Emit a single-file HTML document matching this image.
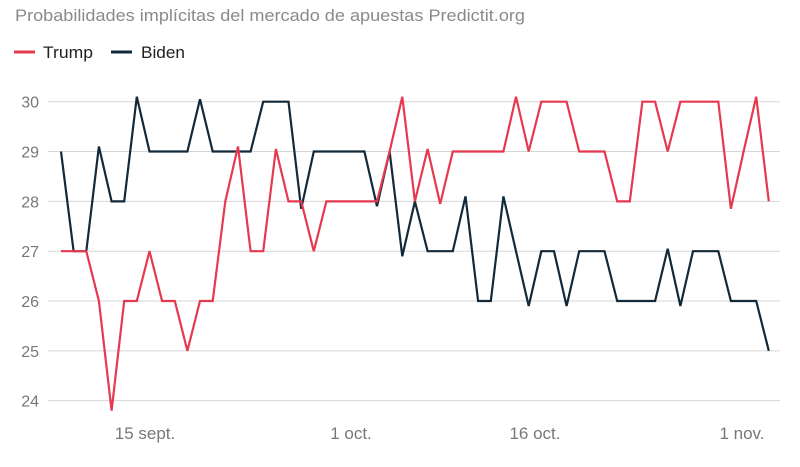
<!DOCTYPE html>
<html><head><meta charset="utf-8"><style>
body{margin:0;background:#fff;width:800px;height:462px;overflow:hidden;font-family:"Liberation Sans",sans-serif}
</style></head><body>
<svg id="s" width="800" height="462" xmlns="http://www.w3.org/2000/svg" font-family="Liberation Sans, sans-serif">
<text x="15" y="21" font-size="17" fill="#8a8a8a" textLength="510" lengthAdjust="spacingAndGlyphs">Probabilidades implícitas del mercado de apuestas Predictit.org</text>
<line x1="14" y1="52" x2="35" y2="52" stroke="#e63950" stroke-width="3"/>
<text x="43" y="58" font-size="17" fill="#222" textLength="50" lengthAdjust="spacingAndGlyphs">Trump</text>
<line x1="111" y1="52" x2="132" y2="52" stroke="#12293a" stroke-width="3"/>
<text x="141" y="58" font-size="17" fill="#222" textLength="44" lengthAdjust="spacingAndGlyphs">Biden</text>
<g id="grid" stroke="#d6d6d6" stroke-width="1"></g>
<g id="lab" font-size="16" fill="#777" text-anchor="end"></g>
<g font-size="17" fill="#777" text-anchor="middle">
<text x="145" y="439">15 sept.</text>
<text x="351" y="439">1 oct.</text>
<text x="535" y="439">16 oct.</text>
<text x="742" y="439">1 nov.</text>
</g>
<polyline id="b" fill="none" stroke="#12293a" stroke-width="2.2" stroke-linejoin="miter"/>
<polyline id="t" fill="none" stroke="#e63950" stroke-width="2.2" stroke-linejoin="miter"/>
</svg>
<script>
var Y=function(v){return 101.7+(30-v)*49.83};
var g=document.getElementById('grid'),l=document.getElementById('lab'),ns='http://www.w3.org/2000/svg';
for(var v=24;v<=30;v++){var ln=document.createElementNS(ns,'line');ln.setAttribute('x1',48);ln.setAttribute('x2',780);ln.setAttribute('y1',Y(v));ln.setAttribute('y2',Y(v));g.appendChild(ln);
var t=document.createElementNS(ns,'text');t.setAttribute('x',39);t.setAttribute('y',Y(v)+6);t.textContent=v;l.appendChild(t);}
var B=[29,27,27,29.1,28,28,30.1,29,29,29,29,30.05,29,29,29,29,30,30,30,27.85,29,29,29,29,29,27.9,29,26.9,28,27,27,27,28.1,26,26,28.1,27,25.9,27,27,25.9,27,27,27,26,26,26,26,27.05,25.9,27,27,27,26,26,26,25];
var T=[27,27,27,26,23.8,26,26,27,26,26,25,26,26,28,29.1,27,27,29.05,28,28,27,28,28,28,28,28,29,30.1,28,29.05,27.95,29,29,29,29,29,30.1,29,30,30,30,29,29,29,28,28,30,30,29,30,30,30,30,27.85,29,30.1,28];
function pts(a){return a.map(function(v,i){return (61+12.64*i).toFixed(1)+','+Y(v).toFixed(1)}).join(' ')}
document.getElementById('b').setAttribute('points',pts(B));
document.getElementById('t').setAttribute('points',pts(T));
</script>
</body></html>
